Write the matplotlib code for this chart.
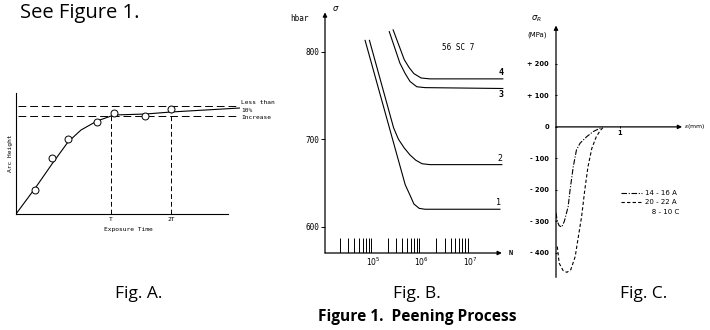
import numpy as np
import matplotlib
matplotlib.use('Agg')
import matplotlib.pyplot as plt
from matplotlib.lines import Line2D
from matplotlib.ticker import NullLocator
from matplotlib import font_manager

W, H = 710, 330

# Fig. A - arc height vs exposure time (arbitrary units)
arc_pts_t = [19, 36, 52, 81, 98, 129, 155]
arc_pts_h = [24, 56, 75, 92, 101, 98, 105]
arc_curve_t = [0, 20, 36, 52, 65, 81, 98, 130, 155, 224]
arc_curve_h = [0, 27, 50, 72, 84, 93, 99, 100, 102, 106]
t_one, t_two = 95, 155
h_upper, h_lower = 108, 98

# Fig. B - fatigue curves, sigma (hbar) vs N
curve1_n = [4.83, 5.66, 5.76, 5.84, 5.95, 6.07, 7.62]
curve1_s = [813, 648, 636, 626, 621, 620, 620]
curve2_n = [4.92, 5.42, 5.52, 5.64, 5.76, 5.88, 6.01, 6.17, 7.66]
curve2_s = [813, 713, 700, 690, 682, 676, 672, 671, 671]
curve3_n = [5.33, 5.55, 5.66, 5.76, 5.90, 6.07, 7.68]
curve3_s = [823, 787, 775, 766, 760, 759, 758]
curve4_n = [5.41, 5.64, 5.74, 5.84, 5.99, 6.17, 7.68]
curve4_s = [825, 791, 782, 775, 770, 769, 769]
cycle_decades = [4, 5, 6]
cycle_mult = [2, 3, 4, 5, 6, 7, 8, 9]

# Fig. C - residual stress (MPa) vs depth (mm)
depth_a = [0, 0.02, 0.05, 0.09, 0.13, 0.19, 0.22, 0.27, 0.32, 0.375, 0.48, 0.58, 0.69, 0.72]
stress_a = [-273, -300, -314, -318, -300, -253, -200, -126, -73, -52, -31, -15, -4, 0]
depth_b = [0.02, 0.05, 0.11, 0.17, 0.23, 0.30, 0.35, 0.40, 0.45, 0.50, 0.56, 0.63, 0.69, 0.73, 0.75]
stress_b = [-380, -433, -456, -462, -454, -412, -348, -285, -200, -126, -68, -31, -12, -3, 0]
stress_ticks = [-400, -300, -200, -100, 0, 100, 200]
stress_labels = ['- 400', '- 300', '- 200', '- 100', '0', '+ 100', '+ 200']

mono = 'DejaVu Sans Mono'
cap = 'Open Sans'
installed = {f.name for f in font_manager.fontManager.ttflist}
if 'Liberation Sans Narrow' in installed:
    title_font, title_size = 'Liberation Sans Narrow', 13.3
else:
    title_font, title_size = 'Open Sans', 11.2

fig = plt.figure(figsize=(7.1, 3.3), dpi=100)


def px_axes(x0, y0, x1, y1):
    return fig.add_axes([x0 / W, 1 - y1 / H, (x1 - x0) / W, (y1 - y0) / H])


def arrow(ax, start, end):
    ax.annotate('', xy=end, xytext=start,
                arrowprops=dict(arrowstyle='-|>', lw=0.9, color='k',
                                mutation_scale=6, shrinkA=0, shrinkB=0),
                annotation_clip=False)


# ---- Fig. A ----
axA = px_axes(16, 93, 240, 214)
axA.set_xlim(0, 224)
axA.set_ylim(0, 121)
for s in ['top', 'right']:
    axA.spines[s].set_visible(False)
axA.spines['bottom'].set_bounds(0, 212)
axA.spines['left'].set_linewidth(0.8)
axA.spines['bottom'].set_linewidth(0.8)
axA.plot([2, 221], [h_upper, h_upper], color='k', lw=0.7, dashes=(8, 4))
axA.plot([2, 222], [h_lower, h_lower], color='k', lw=0.7, dashes=(8, 4))
axA.plot(arc_curve_t, arc_curve_h, color='k', lw=0.8)
axA.plot([t_one, t_one], [0, 99], color='k', lw=0.7, dashes=(5, 3))
axA.plot([t_two, t_two], [0, 103], color='k', lw=0.7, dashes=(5, 3))
axA.plot(arc_pts_t, arc_pts_h, 'o', ms=5, mfc='white', mec='k', mew=0.7)
axA.set_xticks([t_one, t_two])
axA.set_xticklabels(['T', '2T'], family=mono, fontsize=4.5)
axA.tick_params(axis='x', length=0, pad=2)
axA.set_yticks([])
axA.set_xlabel('Exposure Time', family=mono, fontsize=4.5, labelpad=4)
axA.set_ylabel('Arc Height', family=mono, fontsize=4.5, labelpad=2)
axA.text(225, 111, 'Less than', family=mono, fontsize=4.5, va='center', clip_on=False)
axA.text(225, 103, '10%', family=mono, fontsize=4.5, va='center', clip_on=False)
axA.text(225, 96, 'Increase', family=mono, fontsize=4.5, va='center', clip_on=False)

# ---- Fig. B ----
axB = px_axes(325, 8, 512, 253)
axB.set_xscale('log')
axB.set_xlim(1e4, 10 ** 7.87)
axB.set_ylim(570, 850)
for s in axB.spines.values():
    s.set_visible(False)
arrow(axB, (1e4, 570), (1e4, 845))
arrow(axB, (1e4, 570), (10 ** 7.66, 570))
for n_, s_ in [(curve1_n, curve1_s), (curve2_n, curve2_s),
               (curve3_n, curve3_s), (curve4_n, curve4_s)]:
    axB.plot(10 ** np.array(n_), s_, color='k', lw=0.8)
marks = [m * 10 ** d for d in cycle_decades for m in cycle_mult]
axB.vlines(marks, 570, 587, color='k', lw=0.7)
axB.set_yticks([600, 700, 800])
axB.set_yticklabels(['600', '700', '800'], family=mono, fontsize=5.5)
axB.tick_params(axis='y', length=3, width=0.7, pad=1)
axB.set_xticks([1e5, 1e6, 1e7])
axB.set_xticklabels([r'$10^5$', r'$10^6$', r'$10^7$'], fontsize=5.5)
axB.xaxis.set_minor_locator(NullLocator())
axB.tick_params(axis='x', length=0, pad=2)
axB.text(10 ** 4.23, 849, r'$\sigma$', fontsize=6, ha='center', va='center')
axB.text(10 ** 3.48, 838, 'hbar', family=mono, fontsize=5.5, ha='center', va='center')
axB.text(10 ** 7.79, 570, 'N', family=mono, fontsize=5, ha='left', va='center', weight='bold')
axB.text(10 ** 6.75, 805, '56 SC 7', family=mono, fontsize=5.5, ha='center', va='center')
axB.text(10 ** 7.64, 771, '4', family=mono, fontsize=6, ha='center', va='bottom', weight='bold')
axB.text(10 ** 7.64, 756, '3', family=mono, fontsize=6, ha='center', va='top', weight='bold')
axB.text(10 ** 7.62, 673, '2', family=mono, fontsize=6, ha='center', va='bottom')
axB.text(10 ** 7.60, 622, '1', family=mono, fontsize=6, ha='center', va='bottom')

# ---- Fig. C ----
axC = px_axes(556, 23, 684, 278)
axC.set_xlim(0, 2.0)
axC.set_ylim(-480, 330)
for s in axC.spines.values():
    s.set_visible(False)
axC.spines['bottom'].set_position(('data', 0))
arrow(axC, (0, -478), (0, 322))
arrow(axC, (0, 0), (1.97, 0))
la, = axC.plot(depth_a, stress_a, color='k', lw=0.8, dashes=(5, 1.5, 1, 1.5))
lb, = axC.plot(depth_b, stress_b, color='k', lw=0.8, dashes=(3, 2))
axC.set_yticks(stress_ticks)
axC.set_yticklabels(stress_labels, fontsize=4.8, weight='bold')
axC.tick_params(axis='y', length=2, width=0.7, direction='inout', pad=4)
axC.set_xticks([1])
axC.set_xticklabels(['1'], fontsize=4.8, weight='bold')
axC.tick_params(axis='x', length=2, width=0.7, direction='inout', pad=1)
axC.text(2.0, 0, r'$\varepsilon$(mm)', fontsize=4.5, ha='left', va='center', clip_on=False)
axC.text(-0.3, 345, r'$\sigma_R$', fontsize=6, ha='center', va='center', clip_on=False)
axC.text(-0.3, 292, '(MPa)', fontsize=5, ha='center', va='center', clip_on=False)
blank = Line2D([], [], linestyle='none')
axC.legend([la, lb, blank], ['14 - 16 A', '20 - 22 A', '   8 - 10 C'],
           loc='upper left', bbox_to_anchor=(621 / W, 1 - 190 / H),
           bbox_transform=fig.transFigure, frameon=False, fontsize=5,
           handlelength=3, handletextpad=0.4, labelspacing=0.5,
           borderpad=0, borderaxespad=0)

# ---- captions ----
fig.text(20 / W, 1 - 13 / H, 'See Figure 1.', family=cap, fontsize=14.5,
         ha='left', va='center')
fig.text(139 / W, 1 - 294 / H, 'Fig. A.', family=cap, fontsize=12.5, ha='center', va='center')
fig.text(417 / W, 1 - 294 / H, 'Fig. B.', family=cap, fontsize=12.5, ha='center', va='center')
fig.text(644 / W, 1 - 294 / H, 'Fig. C.', family=cap, fontsize=12.5, ha='center', va='center')
fig.text(417 / W, 1 - 317 / H, 'Figure 1.  Peening Process', family=title_font,
         fontsize=title_size, weight='bold', ha='center', va='center')

fig.savefig('out.png', dpi=100, facecolor='white')
